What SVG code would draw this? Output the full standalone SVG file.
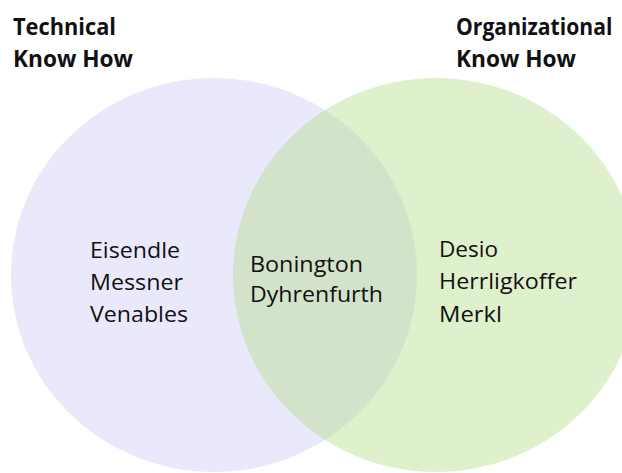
<svg xmlns="http://www.w3.org/2000/svg" width="622" height="473" viewBox="0 0 622 473">
  <style>
    .title { font-family: "Open Sans", "Liberation Sans", sans-serif; font-weight: 700; font-size: 23px; fill: #111111; }
    .name { font-family: "Open Sans", "Liberation Sans", sans-serif; font-size: 21.5px; fill: #111111; }
  </style>
  <rect width="622" height="473" fill="#ffffff"/>

  <!-- Technical know-how set -->
  <g id="technical">
    <ellipse cx="214" cy="275" rx="203" ry="197" fill="#e9e9fb"/>
    <text class="title" x="13" y="35" textLength="103" lengthAdjust="spacingAndGlyphs">Technical</text>
    <text class="title" x="13" y="67" textLength="120" lengthAdjust="spacingAndGlyphs">Know How</text>
    <text class="name" x="90" y="258" textLength="90" lengthAdjust="spacingAndGlyphs">Eisendle</text>
    <text class="name" x="90" y="290" textLength="93" lengthAdjust="spacingAndGlyphs">Messner</text>
    <text class="name" x="90" y="322" textLength="98" lengthAdjust="spacingAndGlyphs">Venables</text>
  </g>

  <!-- Organizational know-how set, translucent so the overlap darkens -->
  <g id="organizational">
    <ellipse cx="436" cy="275" rx="203" ry="197" fill="#b1da82" fill-opacity="0.41"/>
    <text class="title" transform="translate(456 35) scale(0.92 1)">Organizational</text>
    <text class="title" x="456" y="67" textLength="120" lengthAdjust="spacingAndGlyphs">Know How</text>
    <text class="name" x="439" y="257" textLength="59" lengthAdjust="spacingAndGlyphs">Desio</text>
    <text class="name" x="439" y="289" textLength="138" lengthAdjust="spacingAndGlyphs">Herrligkoffer</text>
    <text class="name" x="439" y="322" textLength="63" lengthAdjust="spacingAndGlyphs">Merkl</text>
  </g>

  <!-- Members with both kinds of know-how -->
  <g id="both">
    <text class="name" x="250" y="272" textLength="113" lengthAdjust="spacingAndGlyphs">Bonington</text>
    <text class="name" x="250" y="302" textLength="133" lengthAdjust="spacingAndGlyphs">Dyhrenfurth</text>
  </g>
</svg>
